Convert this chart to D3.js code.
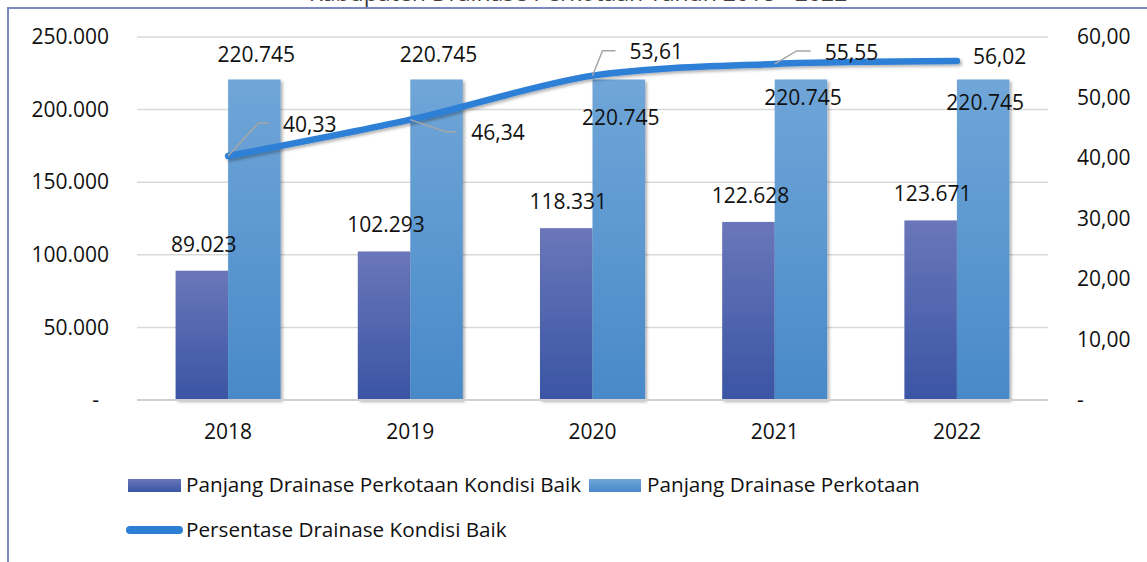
<!DOCTYPE html>
<html>
<head>
<meta charset="utf-8">
<script src="https://cdn.jsdelivr.net/npm/d3@7"></script>
<style>
  html, body { margin: 0; padding: 0; background: #fff; overflow: hidden; }
  svg { display: block; font-family: "Open Sans", sans-serif; }
</style>
</head>
<body>
<svg id="chart" width="1147" height="562"></svg>
<script>
'use strict';

/* ── Data ─────────────────────────────────────────────── */
const years     = ['2018', '2019', '2020', '2021', '2022'];
const baik      = [89023, 102293, 118331, 122628, 123671];
const total     = [220745, 220745, 220745, 220745, 220745];
const persen    = [40.33, 46.34, 53.61, 55.55, 56.02];
const leftTicks  = [0, 50000, 100000, 150000, 200000, 250000];
const rightTicks = [0, 10, 20, 30, 40, 50, 60];

const seriesNames = [
  'Panjang Drainase Perkotaan Kondisi Baik',
  'Panjang Drainase Perkotaan',
  'Persentase Drainase Kondisi Baik'
];

/* ── Label placement (Excel moved these around by hand) ── */
const totalLabelDy = [-17, -17, 46, 26, 31];
const pctLabel = [
  { tx: 55, ty: -24, leader: [[30, -33], [41, -33]] },
  { tx: 61, ty: 20,  leader: [[35, 12], [46, 12]] },
  { tx: 37, ty: -17, leader: [[10, -25], [23, -25]] },
  { tx: 50, ty: -4,  leader: [[22, -13], [36, -13]] },
  { tx: 16, ty: 3,   leader: null }
];

const W = 1147, H = 562;
const X0 = 137, X1 = 1048, Y_TOP = 37, Y_BOT = 400;

const loc = d3.formatLocale({ decimal: ',', thousands: '.', grouping: [3], currency: ['', ''] });
const fmtInt = loc.format(',.0f');
const fmtPct = loc.format('.2f');

const svg = d3.select('#chart');

/* ── Defs: gradients + shadows ── */
const defs = svg.append('defs');
function grad(id, top, bot) {
  const g = defs.append('linearGradient').attr('id', id)
    .attr('x1', 0).attr('y1', 0).attr('x2', 0).attr('y2', 1);
  g.append('stop').attr('offset', '0%').attr('stop-color', top);
  g.append('stop').attr('offset', '100%').attr('stop-color', bot);
}
grad('gDark', '#6a76b9', '#3a55a4');
grad('gLight', '#70a6d8', '#4889c8');

const sh = defs.append('filter').attr('id', 'shadow')
  .attr('x', '-20%').attr('y', '-20%').attr('width', '150%').attr('height', '150%');
sh.append('feDropShadow').attr('dx', 2).attr('dy', 2).attr('stdDeviation', 1.8)
  .attr('flood-color', '#000').attr('flood-opacity', 0.3);

/* ── Frame + clipped title ── */
svg.append('rect')
  .attr('x', 8).attr('y', 8).attr('width', 1300).attr('height', 700)
  .attr('fill', 'none').attr('stroke', '#7b88c4').attr('stroke-width', 2);

svg.append('text')
  .attr('x', 578).attr('y', 1)
  .attr('text-anchor', 'middle').attr('font-size', 23).attr('fill', '#404040')
  .text('Kabupaten Drainase Perkotaan Tahun 2018 - 2022');

/* ── Scales ── */
const x0 = d3.scaleBand().domain(years).range([X0, X1]).paddingInner(0).paddingOuter(0);
const x1 = d3.scaleBand().domain(['baik', 'total']).range([0, x0.bandwidth()])
  .paddingInner(0).paddingOuter(0.735);
const yL = d3.scaleLinear().domain([0, 250000]).range([Y_BOT, Y_TOP]);
const yR = d3.scaleLinear().domain([0, 60]).range([Y_BOT, Y_TOP]);

/* ── Gridlines ── */
svg.append('g').selectAll('line').data(leftTicks.filter(d => d > 0)).join('line')
  .attr('x1', X0).attr('x2', X1)
  .attr('y1', d => yL(d)).attr('y2', d => yL(d))
  .attr('stroke', '#d9d9d9').attr('stroke-width', 1.5);

/* ── Left axis ── */
const axL = svg.append('g').attr('transform', `translate(${X0},0)`)
  .call(d3.axisLeft(yL).tickValues(leftTicks).tickSize(0).tickPadding(28)
    .tickFormat(d => d === 0 ? '-' : fmtInt(d)));
axL.select('.domain').remove();
axL.selectAll('.tick text')
  .attr('font-family', '"Open Sans", sans-serif').attr('font-size', 21).attr('fill', '#111')
  .attr('dx', d => d === 0 ? -10 : 0);

/* ── Right axis ── */
const axR = svg.append('g').attr('transform', `translate(${X1},0)`)
  .call(d3.axisRight(yR).tickValues(rightTicks).tickSize(0).tickPadding(29)
    .tickFormat(d => d === 0 ? '-' : fmtPct(d)));
axR.select('.domain').remove();
axR.selectAll('.tick text')
  .attr('font-family', '"Open Sans", sans-serif').attr('font-size', 21).attr('fill', '#111');

/* ── Bars ── */
const groups = svg.append('g').selectAll('g').data(years).join('g')
  .attr('transform', d => `translate(${x0(d)},0)`);

groups.append('rect')
  .attr('x', x1('baik')).attr('width', x1.bandwidth())
  .attr('y', (d, i) => yL(baik[i])).attr('height', (d, i) => Y_BOT - yL(baik[i]))
  .attr('fill', 'url(#gDark)').attr('filter', 'url(#shadow)');

groups.append('rect')
  .attr('x', x1('total')).attr('width', x1.bandwidth())
  .attr('y', (d, i) => yL(total[i])).attr('height', (d, i) => Y_BOT - yL(total[i]))
  .attr('fill', 'url(#gLight)').attr('filter', 'url(#shadow)');

/* ── X axis line + labels ── */
svg.append('line')
  .attr('x1', X0).attr('x2', X1).attr('y1', Y_BOT).attr('y2', Y_BOT)
  .attr('stroke', '#d0d0d0').attr('stroke-width', 2);

const axX = svg.append('g').attr('transform', `translate(0,${Y_BOT})`)
  .call(d3.axisBottom(x0).tickSize(0).tickPadding(24));
axX.select('.domain').remove();
axX.selectAll('.tick text')
  .attr('font-family', '"Open Sans", sans-serif').attr('font-size', 21).attr('fill', '#111');

/* ── Bar labels ── */
groups.append('text')
  .attr('x', x1('baik') + x1.bandwidth() / 2 + 2)
  .attr('y', (d, i) => yL(baik[i]) - 19)
  .attr('text-anchor', 'middle').attr('font-size', 21).attr('fill', '#111')
  .text((d, i) => fmtInt(baik[i]));

/* ── Line ── */
const cx = d => x0(d) + x0.bandwidth() / 2;
const line = d3.line()
  .x((d, i) => cx(years[i]))
  .y(d => yR(d))
  .curve(d3.curveCardinal.tension(0.1));

svg.append('path').datum(persen)
  .attr('d', line)
  .attr('fill', 'none').attr('stroke', '#2d7fd6').attr('stroke-width', 6.5)
  .attr('stroke-linecap', 'round').attr('filter', 'url(#shadow)');

groups.append('text')
  .attr('x', x1('total') + x1.bandwidth() / 2 + 2)
  .attr('y', (d, i) => yL(total[i]) + totalLabelDy[i])
  .attr('text-anchor', 'middle').attr('font-size', 21).attr('fill', '#111')
  .text((d, i) => fmtInt(total[i]));

/* ── Line labels + leader lines ── */
persen.forEach((v, i) => {
  const px = cx(years[i]), py = yR(v);
  const L = pctLabel[i];
  if (L.leader) {
    const pts = [[px, py]].concat(L.leader.map(([dx, dy]) => [px + dx, py + dy]));
    svg.append('path')
      .attr('d', d3.line()(pts))
      .attr('fill', 'none').attr('stroke', '#a6a6a6').attr('stroke-width', 1.5);
  }
  svg.append('text')
    .attr('x', px + L.tx).attr('y', py + L.ty)
    .attr('font-size', 21).attr('fill', '#111')
    .text(fmtPct(v));
});

/* ── Legend ── */
const lg = svg.append('g').attr('font-size', 20.7).attr('fill', '#111');
lg.append('rect').attr('x', 128).attr('y', 479).attr('width', 53).attr('height', 13)
  .attr('fill', 'url(#gDark)');
lg.append('text').attr('x', 186).attr('y', 492).text(seriesNames[0]);
lg.append('rect').attr('x', 589).attr('y', 479).attr('width', 52).attr('height', 13)
  .attr('fill', 'url(#gLight)');
lg.append('text').attr('x', 647).attr('y', 492).text(seriesNames[1]);
lg.append('line').attr('x1', 130).attr('x2', 179).attr('y1', 530).attr('y2', 530)
  .attr('stroke', '#2d7fd6').attr('stroke-width', 8).attr('stroke-linecap', 'round');
lg.append('text').attr('x', 186).attr('y', 537).text(seriesNames[2]);
</script>
</body>
</html>
